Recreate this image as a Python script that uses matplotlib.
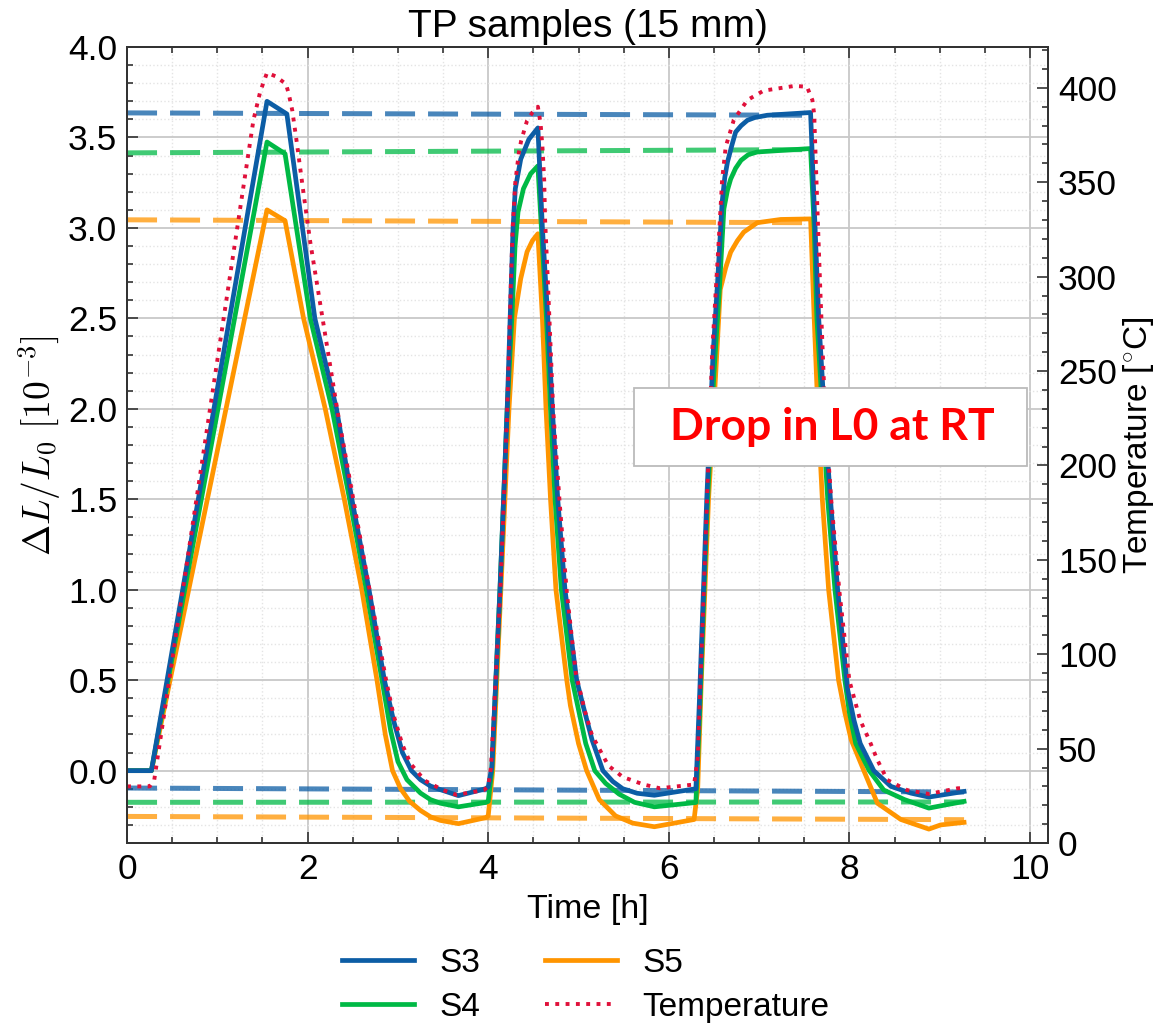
import matplotlib
matplotlib.use('Agg')
import matplotlib.pyplot as plt
from matplotlib.patches import Rectangle
from matplotlib.ticker import MultipleLocator

plt.rcParams['font.family'] = ['Liberation Sans', 'DejaVu Sans']
plt.rcParams['mathtext.fontset'] = 'cm'

# strain curves, time in h, dL/L0 in 1e-3
t_s3 = [0, 0.27, 1.55, 1.77, 2.08, 2.32, 2.49, 2.68, 2.85, 2.95, 3.05, 3.15, 3.25, 3.36, 3.47, 3.67, 3.97,
        4.0, 4.04, 4.13, 4.21, 4.245, 4.275, 4.30, 4.36, 4.45, 4.55,
        4.60, 4.66, 4.71, 4.77, 4.85, 4.98, 5.05, 5.15, 5.27, 5.38, 5.49, 5.65, 5.84, 6.30,
        6.34, 6.42, 6.49, 6.54, 6.59, 6.62, 6.65, 6.70, 6.74, 6.80, 6.87, 6.95, 7.09, 7.57,
        7.62, 7.66, 7.72, 7.79, 7.87, 7.98, 8.05, 8.12, 8.27, 8.46, 8.68, 8.88, 9.27]
s3 = [0, 0, 3.70, 3.63, 2.50, 2.00, 1.50, 1.00, 0.50, 0.28, 0.10, 0.0, -0.05, -0.085, -0.105, -0.138, -0.10,
      -0.09, 0.02, 1.0, 2.0, 2.535, 3.0, 3.217, 3.38, 3.49, 3.553,
      3.0, 2.5, 2.0, 1.5, 1.0, 0.5, 0.36, 0.17, 0.0, -0.06, -0.10, -0.125, -0.136, -0.10,
      0.4, 1.5, 2.3, 2.7, 3.14, 3.28, 3.365, 3.46, 3.53, 3.565, 3.595, 3.61, 3.623, 3.638,
      3.0, 2.5, 2.0, 1.5, 1.0, 0.45, 0.28, 0.15, 0.0, -0.087, -0.124, -0.146, -0.115]

t_s4 = [0, 0.27, 1.55, 1.75, 2.03, 2.27, 2.465, 2.65, 2.824, 2.92, 3.0, 3.1, 3.25, 3.36, 3.47, 3.67, 3.97,
        4.0, 4.04, 4.13, 4.21, 4.265, 4.297, 4.33, 4.39, 4.47, 4.55,
        4.60, 4.645, 4.69, 4.74, 4.81, 4.93, 4.99, 5.08, 5.18, 5.30, 5.45, 5.62, 5.84, 6.30,
        6.34, 6.42, 6.50, 6.56, 6.61, 6.65, 6.685, 6.74, 6.80, 6.88, 6.98, 7.57,
        7.61, 7.64, 7.70, 7.76, 7.84, 7.95, 8.0, 8.07, 8.22, 8.38, 8.61, 8.88, 9.27]
s4 = [0, 0, 3.475, 3.41, 2.5, 2.0, 1.5, 1.0, 0.5, 0.22, 0.05, -0.05, -0.124, -0.16, -0.18, -0.20, -0.176,
      -0.17, 0.0, 1.0, 2.0, 2.535, 2.90, 3.088, 3.217, 3.30, 3.343,
      2.9, 2.5, 2.0, 1.5, 1.0, 0.5, 0.36, 0.15, 0.0, -0.07, -0.13, -0.175, -0.20, -0.176,
      0.3, 1.4, 2.2, 2.66, 3.106, 3.21, 3.27, 3.33, 3.374, 3.405, 3.42, 3.439,
      3.0, 2.5, 2.0, 1.5, 1.0, 0.5, 0.32, 0.15, 0.0, -0.107, -0.16, -0.207, -0.17]

t_s5 = [0, 0.27, 1.55, 1.75, 1.955, 2.195, 2.406, 2.60, 2.768, 2.86, 2.94, 3.03, 3.13, 3.25, 3.36, 3.47, 3.67, 3.97,
        4.0, 4.05, 4.14, 4.23, 4.29, 4.36, 4.43, 4.49, 4.55,
        4.60, 4.64, 4.69, 4.75, 4.87, 4.91, 5.0, 5.09, 5.23, 5.41, 5.60, 5.84, 6.28,
        6.32, 6.36, 6.44, 6.52, 6.57, 6.63, 6.685, 6.76, 6.83, 6.98, 7.24, 7.57,
        7.61, 7.65, 7.70, 7.77, 7.88, 7.95, 8.02, 8.16, 8.31, 8.57, 8.88, 9.01, 9.27]
s5 = [0, 0, 3.10, 3.04, 2.5, 2.0, 1.5, 1.0, 0.5, 0.2, 0.0, -0.1, -0.17, -0.22, -0.255, -0.275, -0.293, -0.26,
      -0.25, 0.0, 1.0, 2.0, 2.5, 2.72, 2.868, 2.93, 2.968,
      2.5, 2.0, 1.5, 1.0, 0.5, 0.36, 0.15, 0.0, -0.16, -0.25, -0.29, -0.31, -0.27,
      -0.1, 0.5, 1.5, 2.2, 2.66, 2.78, 2.866, 2.93, 2.977, 3.029, 3.047, 3.05,
      2.5, 2.0, 1.5, 1.0, 0.5, 0.32, 0.17, 0.0, -0.18, -0.27, -0.323, -0.30, -0.286]

# temperature in degC
t_temp = [0, 0.25, 0.30, 1.40, 1.475, 1.55, 1.65, 1.76, 1.79, 1.83, 1.88, 1.955, 2.03,
          2.33, 2.51, 2.69, 2.87, 2.95, 3.05, 3.14, 3.3, 3.5, 3.65, 3.95,
          4.0, 4.03, 4.135, 4.21, 4.25, 4.27, 4.30, 4.34, 4.365, 4.43, 4.49, 4.55,
          4.58, 4.60, 4.62, 4.63, 4.66, 4.72, 4.79, 4.87, 4.97, 5.07, 5.15, 5.33, 5.49, 5.72, 5.9, 6.28,
          6.32, 6.40, 6.48, 6.555, 6.59, 6.63, 6.72, 6.87, 7.05, 7.39, 7.53, 7.59, 7.61,
          7.65, 7.68, 7.73, 7.80, 7.89, 8.0, 8.12, 8.22, 8.31, 8.42, 8.64, 8.88, 9.2, 9.25]
temp = [30, 30, 33, 383, 398, 408, 406, 402, 397, 388, 371, 344, 318,
        229, 181, 133, 86, 68, 52, 42, 33, 28, 25.5, 28,
        30, 40, 134, 229, 295, 325, 350, 366, 372, 382.6, 387, 390,
        381, 369, 351, 330, 298, 229, 181, 133, 90, 70, 57, 41, 35, 31, 29, 31,
        45, 150, 260, 321, 351, 368.8, 383, 393.5, 398.5, 401, 400.6, 393.5, 386,
        330, 290, 229, 181, 133, 86, 65, 54.5, 44, 33.4, 28, 26, 29, 29]

# dashed reference levels
hot_t = [0, 7.55]
hot_s3 = [3.636, 3.623]
hot_s4 = [3.415, 3.433]
hot_s5 = [3.045, 3.029]
rt_t = [0, 9.27]
rt_s3 = [-0.096, -0.118]
rt_s4 = [-0.175, -0.173]
rt_s5 = [-0.253, -0.271]

c3, c4, c5 = '#0C5DA5', '#00B945', '#FF9500'
ctemp = '#E0103A'

fig = plt.figure(figsize=(11.55, 10.34), dpi=100)
ax = fig.add_axes([0.110, 0.1847, 0.7974, 0.7698])
ax2 = ax.twinx()

fs = 25.5
lw = 3.4
dash = dict(lw=3.6, ls=(0, (6, 2.6)), alpha=0.75)

l3, = ax.plot(t_s3, s3, color=c3, lw=lw, label='S3', zorder=4)
l4, = ax.plot(t_s4, s4, color=c4, lw=lw, label='S4', zorder=3.9)
l5, = ax.plot(t_s5, s5, color=c5, lw=lw, label='S5', zorder=3.8)
for tt, vals, col in [(hot_t, hot_s3, c3), (hot_t, hot_s4, c4), (hot_t, hot_s5, c5),
                      (rt_t, rt_s3, c3), (rt_t, rt_s4, c4), (rt_t, rt_s5, c5)]:
    ax.plot(tt, vals, color=col, zorder=3, **dash)

lt, = ax2.plot(t_temp, temp, color=ctemp, lw=2.8, ls=':', label='Temperature')

ax.set_xlim(0, 10.2)
ax.set_ylim(-0.4, 4.0)
ax2.set_ylim(0, 421.6)

ax.xaxis.set_major_locator(MultipleLocator(2))
ax.xaxis.set_minor_locator(MultipleLocator(0.5))
ax.yaxis.set_major_locator(MultipleLocator(0.5))
ax.yaxis.set_minor_locator(MultipleLocator(0.1))
ax2.yaxis.set_major_locator(MultipleLocator(50))
ax2.yaxis.set_minor_locator(MultipleLocator(10))

ax.grid(True, which='major', color='#c8c8c8', lw=1.3, zorder=0)
ax.grid(True, which='minor', color='#e4e4e4', lw=1.0, ls=':', zorder=0)

ax.tick_params(which='both', direction='in', top=True, right=False, labelsize=fs,
               width=1.2, color='#333333', pad=7)
ax.tick_params(which='major', length=8)
ax.tick_params(which='minor', length=4)
ax2.tick_params(which='both', direction='in', labelsize=fs, width=1.2, color='#333333', pad=7)
ax2.tick_params(which='major', length=8)
ax2.tick_params(which='minor', length=4)
for a in (ax, ax2):
    for sp in a.spines.values():
        sp.set_linewidth(1.4)
        sp.set_color('#333333')

ax.set_yticks([0.0, 0.5, 1.0, 1.5, 2.0, 2.5, 3.0, 3.5, 4.0])
ax.set_yticklabels(['0.0', '0.5', '1.0', '1.5', '2.0', '2.5', '3.0', '3.5', '4.0'])

ax.set_xlabel('Time [h]', fontsize=24.5, labelpad=6)
ax.set_ylabel(r'$\Delta L/L_0\ [10^{-3}]$', fontsize=27, labelpad=4)
ax2.set_ylabel(r'Temperature [$^{\circ}$C]', fontsize=24, labelpad=3)
ax.set_title('TP samples (15 mm)', fontsize=28, pad=7)

box = Rectangle((0.5505, 0.4736), 0.4265, 0.098, transform=ax.transAxes,
                facecolor='white', edgecolor='#bbbbbb', lw=1.3, zorder=10)
ax2.add_patch(box)
ax2.text(0.7655, 0.5226, 'Drop in L0 at RT', transform=ax.transAxes, ha='center', va='center',
         fontsize=32, fontweight='bold', color='#ff0000', family=['Lato', 'DejaVu Sans'],
         zorder=11)

fig.legend(handles=[l3, l4, l5, lt], loc='center', bbox_to_anchor=(0.507, 0.047), ncol=2,
           frameon=False, fontsize=24, handlelength=2.16, columnspacing=1.95, labelspacing=0.38,
           handletextpad=0.75)

fig.savefig('out.png', dpi=100)
